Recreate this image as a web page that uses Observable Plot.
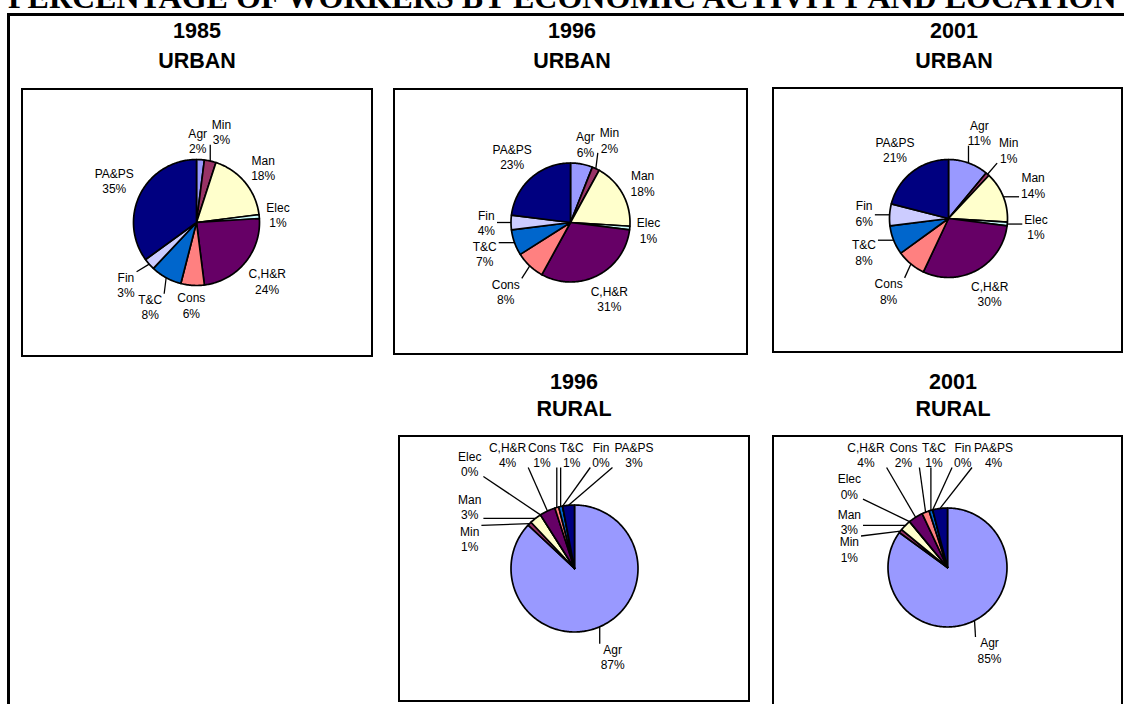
<!DOCTYPE html>
<html><head><meta charset="utf-8">
<script src="https://cdn.jsdelivr.net/npm/d3@7"></script>
<script src="https://cdn.jsdelivr.net/npm/@observablehq/plot@0.6"></script>
<style>
html,body{margin:0;padding:0;background:#fff;}
body{width:1124px;height:704px;overflow:hidden;position:relative;font-family:"Liberation Sans",Arial,sans-serif;}
#title{position:absolute;left:8px;top:-19px;font:bold 32px/32px "Liberation Serif","Times New Roman",serif;white-space:nowrap;color:#000;}
#frame{position:absolute;left:7px;top:13px;width:1300px;height:900px;border-top:3px solid #000;border-left:3px solid #000;}
.head{position:absolute;width:220px;text-align:center;font:bold 21.5px/21.5px "Liberation Sans",Arial,sans-serif;color:#000;}
.panel{position:absolute;box-sizing:border-box;border:2px solid #000;background:#fff;}
.panel svg{position:absolute;left:0;top:0;overflow:visible;}
</style></head>
<body>
<div id="title">PERCENTAGE OF WORKERS BY ECONOMIC ACTIVITY AND LOCATION</div>
<div id="frame"></div>
<script>
// ---- data ----
const categories = ["Agr", "Min", "Man", "Elec", "C,H&R", "Cons", "T&C", "Fin", "PA&PS"];
const colors = ["#9999FF", "#993366", "#FFFFCC", "#CCFFFF", "#660066", "#FF8080", "#0066CC", "#CCCCFF", "#000080"];
const urban1985 = [2, 3, 18, 1, 24, 6, 8, 3, 35];
const urban1996 = [6, 2, 18, 1, 31, 8, 7, 4, 23];
const urban2001 = [11, 1, 14, 1, 30, 8, 8, 6, 21];
const rural1996 = [87, 1, 3, 0, 4, 1, 1, 0, 3];
const rural2001 = [85, 1, 3, 0, 4, 2, 1, 0, 4];
// which labels carry a leader line
const leaderUrban1985 = [false, true, false, false, false, false, true, true, false];
const leaderUrban1996 = [false, true, false, false, false, true, true, true, false];
const leaderUrban2001 = [true, true, true, true, false, true, true, true, false];
const leaderRural1996 = [true, true, true, true, true, true, true, true, true];
const leaderRural2001 = [true, true, true, true, true, true, true, true, true];
const panelYears = ["1985", "1996", "2001", "1996", "2001"];
const panelLocations = ["URBAN", "URBAN", "URBAN", "RURAL", "RURAL"];

// ---- layout ----
const layout = [
  {values: urban1985, leader: leaderUrban1985, L: 21, T: 88, R: 373, B: 357, CX: 196, CY: 222, r: 63, hx: 197, hy1: 39, hy2: 69},
  {values: urban1996, leader: leaderUrban1996, L: 393, T: 88, R: 748, B: 355, CX: 570, CY: 222, r: 59.5, hx: 572, hy1: 39, hy2: 69},
  {values: urban2001, leader: leaderUrban2001, L: 772, T: 87, R: 1123, B: 353, CX: 948, CY: 218, r: 59, hx: 954, hy1: 39, hy2: 69},
  {values: rural1996, leader: leaderRural1996, L: 398, T: 435, R: 750, B: 702, CX: 574, CY: 568, r: 63.5, hx: 574, hy1: 390, hy2: 417},
  {values: rural2001, leader: leaderRural2001, L: 772, T: 435, R: 1123, B: 706, CX: 947, CY: 567, r: 59.5, hx: 953, hy1: 390, hy2: 417}
];

const FONT = "'Liberation Sans', Arial, sans-serif";
const ctx = document.createElement("canvas").getContext("2d");
ctx.font = "12px " + FONT;
const measure = (s) => ctx.measureText(s).width;
const clamp = (v, a, b) => Math.max(a, Math.min(b, v));

// spread crowded labels apart in angle (degrees)
function spread(items, sep) {
  const sorted = items.slice().sort((a, b) => a.ideal - b.ideal);
  let groups = sorted.map(it => ({members: [it]}));
  const center = g => d3.mean(g.members, m => m.ideal);
  const start = g => center(g) - (g.members.length - 1) * sep / 2;
  const end = g => center(g) + (g.members.length - 1) * sep / 2;
  let merged = true;
  while (merged) {
    merged = false;
    for (let k = 0; k < groups.length - 1; k++) {
      if (start(groups[k + 1]) - end(groups[k]) < sep) {
        groups.splice(k, 2, {members: groups[k].members.concat(groups[k + 1].members)});
        merged = true;
        break;
      }
    }
  }
  for (const g of groups) {
    const s = start(g);
    g.members.forEach((m, j) => { m.angle = s + j * sep; m.group = g.members.length; });
  }
}

function piePlot(cfg) {
  const innerW = cfg.R - cfg.L - 4, innerH = cfg.B - cfg.T - 4;
  const cx = cfg.CX - cfg.L - 2, cy = cfg.CY - cfg.T - 2, r = cfg.r;
  const total = d3.sum(cfg.values);
  const slices = [];
  let acc = 0;
  cfg.values.forEach((v, i) => {
    const a0 = acc / total * 2 * Math.PI; acc += v;
    const a1 = acc / total * 2 * Math.PI;
    slices.push({cat: categories[i], v, a0, a1, mid: (a0 + a1) / 2, leader: cfg.leader[i]});
  });
  const poly = [];
  for (const s of slices) {
    poly.push({cat: s.cat, x: 0, y: 0});
    const n = Math.max(1, Math.ceil((s.a1 - s.a0) / (Math.PI / 180)));
    for (let k = 0; k <= n; k++) {
      const a = s.a0 + (s.a1 - s.a0) * k / n;
      poly.push({cat: s.cat, x: Math.sin(a), y: Math.cos(a)});
    }
  }
  const hh = 13;
  const topLimit = cy - 4 - hh;
  const labels = slices.map(s => {
    let ideal = s.mid * 180 / Math.PI; if (ideal > 180) ideal -= 360;
    return {...s, ideal, text: `${s.cat}\n${s.v}%`, w: Math.max(measure(s.cat), measure(s.v + "%"))};
  });
  spread(labels, 14.5);
  const leaders = [];
  labels.forEach(l => {
    const a = l.angle * Math.PI / 180, ux = Math.sin(a), uy = Math.cos(a);
    let px, py;
    if (l.group >= 3) {
      // crowded cluster: labels pushed onto a box around the pie
      const Wx = 1.65 * r, Hy = uy > 0 ? topLimit : 1.65 * r;
      const t = Math.min(Wx / Math.max(1e-6, Math.abs(ux)), Hy / Math.max(1e-6, Math.abs(uy)));
      px = t * ux; py = t * uy;
    } else {
      const gap = 6 + (l.leader ? 10 : 0);
      const Rl = r + gap + Math.abs(ux) * l.w / 2 + Math.abs(uy) * hh;
      px = Rl * ux; py = Rl * uy;
    }
    py = Math.min(py, topLimit);
    l.x = px / r; l.y = py / r;
    if (l.leader) {
      const p0x = Math.sin(l.mid) * r, p0y = Math.cos(l.mid) * r;
      const bx = clamp(p0x, px - l.w / 2 - 2, px + l.w / 2 + 2);
      const by = clamp(p0y, py - hh, py + hh);
      leaders.push({x1: p0x / r, y1: p0y / r, x2: bx / r, y2: by / r});
    }
  });
  return Plot.plot({
    width: innerW, height: innerH,
    marginLeft: cx - r, marginRight: innerW - cx - r,
    marginTop: cy - r, marginBottom: innerH - cy - r,
    x: {domain: [-1, 1], axis: null},
    y: {domain: [-1, 1], axis: null},
    color: {domain: categories, range: colors},
    style: {fontFamily: FONT, fontSize: "12px", background: "transparent", overflow: "visible"},
    marks: [
      Plot.line(poly, {x: "x", y: "y", z: "cat", fill: "cat", stroke: "#000", strokeWidth: 1.7, strokeLinejoin: "round", curve: "linear-closed"}),
      Plot.link(leaders, {x1: "x1", y1: "y1", x2: "x2", y2: "y2", stroke: "#000", strokeWidth: 1.3}),
      Plot.text(labels, {x: "x", y: "y", text: "text", fill: "#000", fontSize: 12, lineHeight: 1.29, fontFamily: FONT})
    ]
  });
}

layout.forEach((cfg, i) => {
  const h1 = document.createElement("div");
  h1.className = "head"; h1.textContent = panelYears[i];
  h1.style.left = (cfg.hx - 110) + "px"; h1.style.top = (cfg.hy1 - 18.2) + "px";
  document.body.appendChild(h1);
  const h2 = document.createElement("div");
  h2.className = "head"; h2.textContent = panelLocations[i];
  h2.style.left = (cfg.hx - 110) + "px"; h2.style.top = (cfg.hy2 - 18.2) + "px";
  document.body.appendChild(h2);
  const p = document.createElement("div");
  p.className = "panel";
  p.style.left = cfg.L + "px"; p.style.top = cfg.T + "px";
  p.style.width = (cfg.R - cfg.L) + "px"; p.style.height = (cfg.B - cfg.T) + "px";
  p.appendChild(piePlot(cfg));
  document.body.appendChild(p);
});
</script>
</body></html>
